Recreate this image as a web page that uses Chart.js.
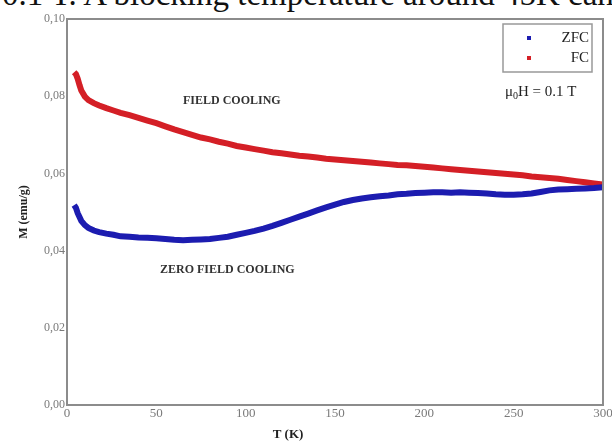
<!DOCTYPE html>
<html>
<head>
<meta charset="utf-8">
<script src="https://cdn.jsdelivr.net/npm/chart.js@4.4.1/dist/chart.umd.min.js"></script>
<style>
  html, body { margin: 0; padding: 0; background: #fff; }
  #wrap { position: relative; width: 612px; height: 446px; overflow: hidden; }
  #caption {
    position: absolute; left: 2px; top: -24px; white-space: nowrap;
    font-family: "Liberation Serif", serif; font-size: 33px; color: #111;
  }
  #chart { position: absolute; left: 0; top: 0; }
</style>
</head>
<body>
<div id="wrap">
  <div id="caption">0.1 T. A blocking temperature around 45K can</div>
  <canvas id="chart" width="612" height="446"></canvas>
</div>
<script>
// temperature sweep (K)
const temps = [4, 5, 6, 7, 8, 10, 12, 15, 18, 22, 26, 30, 35, 40, 45, 50, 55, 60, 65, 70,
  75, 80, 85, 90, 95, 100, 105, 110, 115, 120, 125, 130, 135, 140, 145, 150, 155, 160, 165, 170,
  175, 180, 185, 190, 195, 200, 205, 210, 215, 220, 225, 230, 235, 240, 245, 250, 255, 260, 265, 270,
  275, 280, 285, 290, 295, 300];

// magnetisation, emu/g
const zfcValues = [0.0518, 0.0511, 0.0497, 0.0487, 0.0477, 0.0466, 0.0459, 0.0452, 0.0448, 0.0444,
  0.0441, 0.0437, 0.0436, 0.0434, 0.0433, 0.0432, 0.0430, 0.0428, 0.0427, 0.0428,
  0.0429, 0.0430, 0.0433, 0.0436, 0.0441, 0.0446, 0.0451, 0.0457, 0.0464, 0.0472,
  0.0480, 0.0488, 0.0496, 0.0504, 0.0512, 0.0519, 0.0526, 0.0531, 0.0535, 0.0538,
  0.0541, 0.0543, 0.0546, 0.0547, 0.0549, 0.0550, 0.0551, 0.0551, 0.0550, 0.0551,
  0.0550, 0.0549, 0.0548, 0.0546, 0.0545, 0.0545, 0.0546, 0.0548, 0.0552, 0.0556,
  0.0558, 0.0559, 0.0560, 0.0561, 0.0562, 0.0564];

const fcValues = [0.0862, 0.0857, 0.0845, 0.0829, 0.0815, 0.0799, 0.0790, 0.0782, 0.0776, 0.0769,
  0.0763, 0.0757, 0.0751, 0.0744, 0.0737, 0.0730, 0.0722, 0.0714, 0.0707, 0.0700,
  0.0693, 0.0688, 0.0682, 0.0677, 0.0671, 0.0667, 0.0663, 0.0659, 0.0655, 0.0652,
  0.0649, 0.0646, 0.0644, 0.0641, 0.0638, 0.0636, 0.0634, 0.0632, 0.0630, 0.0628,
  0.0626, 0.0624, 0.0622, 0.0621, 0.0619, 0.0617, 0.0615, 0.0613, 0.0611, 0.0609,
  0.0607, 0.0605, 0.0603, 0.0601, 0.0599, 0.0597, 0.0595, 0.0592, 0.0590, 0.0588,
  0.0586, 0.0583, 0.0580, 0.0577, 0.0574, 0.0571];

const xTicks = [0, 50, 100, 150, 200, 250, 300];
const yTicks = [0, 0.02, 0.04, 0.06, 0.08, 0.10];

const SERIF = '"Liberation Serif", "DejaVu Serif", serif';

function toPoints(values) {
  return temps.map((t, i) => ({ x: t, y: values[i] }));
}

// frame, inset legend and the text labels inside the plot
const decorPlugin = {
  id: 'decor',
  afterDraw(chart) {
    const { ctx, chartArea: a } = chart;
    ctx.save();
    ctx.strokeStyle = '#8c8c8c';
    ctx.lineWidth = 2;
    ctx.strokeRect(a.left, a.top, a.right - a.left, a.bottom - a.top);

    // legend box
    const bx = 503, by = 24, bw = 89, bh = 48;
    ctx.lineWidth = 1.5;
    ctx.strokeStyle = '#999';
    ctx.strokeRect(bx, by, bw, bh);
    ctx.font = '15px ' + SERIF;
    ctx.textBaseline = 'middle';
    chart.data.datasets.forEach((ds, i) => {
      const cy = by + 14 + i * 20;
      ctx.fillStyle = ds.borderColor;
      ctx.fillRect(bx + 24, cy - 2, 4, 4);
      ctx.fillStyle = '#222';
      ctx.textAlign = 'right';
      ctx.fillText(ds.label, bx + bw - 3, cy);
    });

    // applied field
    ctx.textAlign = 'left';
    ctx.fillStyle = '#222';
    ctx.font = '15px ' + SERIF;
    let x = 505;
    ctx.fillText('\u03bc', x, 92);
    x += ctx.measureText('\u03bc').width;
    ctx.font = '10px ' + SERIF;
    ctx.fillText('0', x, 96);
    x += ctx.measureText('0').width;
    ctx.font = '15px ' + SERIF;
    ctx.fillText('H = 0.1 T', x, 92);

    ctx.font = 'bold 12px ' + SERIF;
    ctx.fillStyle = '#333';
    ctx.fillText('FIELD COOLING', 183, 101);
    ctx.fillText('ZERO FIELD COOLING', 160, 270);

    ctx.font = 'bold 13px ' + SERIF;
    ctx.fillStyle = '#222';
    ctx.textAlign = 'center';
    ctx.fillText('T (K)', 288, 435);
    ctx.restore();
  }
};

new Chart(document.getElementById('chart'), {
  type: 'line',
  data: {
    datasets: [
      {
        label: 'ZFC',
        data: toPoints(zfcValues),
        borderColor: '#1c1cb0',
        borderWidth: 6,
        pointRadius: 0,
        tension: 0
      },
      {
        label: 'FC',
        data: toPoints(fcValues),
        borderColor: '#d41f26',
        borderWidth: 6,
        pointRadius: 0,
        tension: 0
      }
    ]
  },
  options: {
    responsive: false,
    animation: false,
    layout: { padding: { top: 19, right: 9, left: 0, bottom: 0 } },
    plugins: { legend: { display: false }, tooltip: { enabled: false } },
    scales: {
      x: {
        type: 'linear',
        min: 0,
        max: 300,
        grid: { display: false, drawTicks: false },
        border: { display: false },
        afterBuildTicks: (s) => { s.ticks = xTicks.map(v => ({ value: v })); },
        afterFit: (s) => { s.height = 41; s.paddingLeft = 0; s.paddingRight = 0; },
        ticks: {
          padding: 1,
          maxRotation: 0,
          color: '#7a7a7a',
          font: { family: SERIF, size: 13 }
        }
      },
      y: {
        min: 0,
        max: 0.1,
        grid: { display: false, drawTicks: false },
        border: { display: false },
        afterBuildTicks: (s) => { s.ticks = yTicks.map(v => ({ value: v })); },
        afterFit: (s) => { s.width = 67; s.paddingTop = 0; s.paddingBottom = 0; },
        ticks: {
          padding: 2,
          color: '#7a7a7a',
          font: { family: SERIF, size: 12 },
          callback: (v) => v.toFixed(2).replace('.', ',')
        },
        title: {
          display: true,
          text: 'M (emu/g)',
          color: '#222',
          font: { family: SERIF, size: 12, weight: 'bold' },
          padding: { top: 17, bottom: 0 }
        }
      }
    }
  },
  plugins: [decorPlugin]
});
</script>
</body>
</html>
